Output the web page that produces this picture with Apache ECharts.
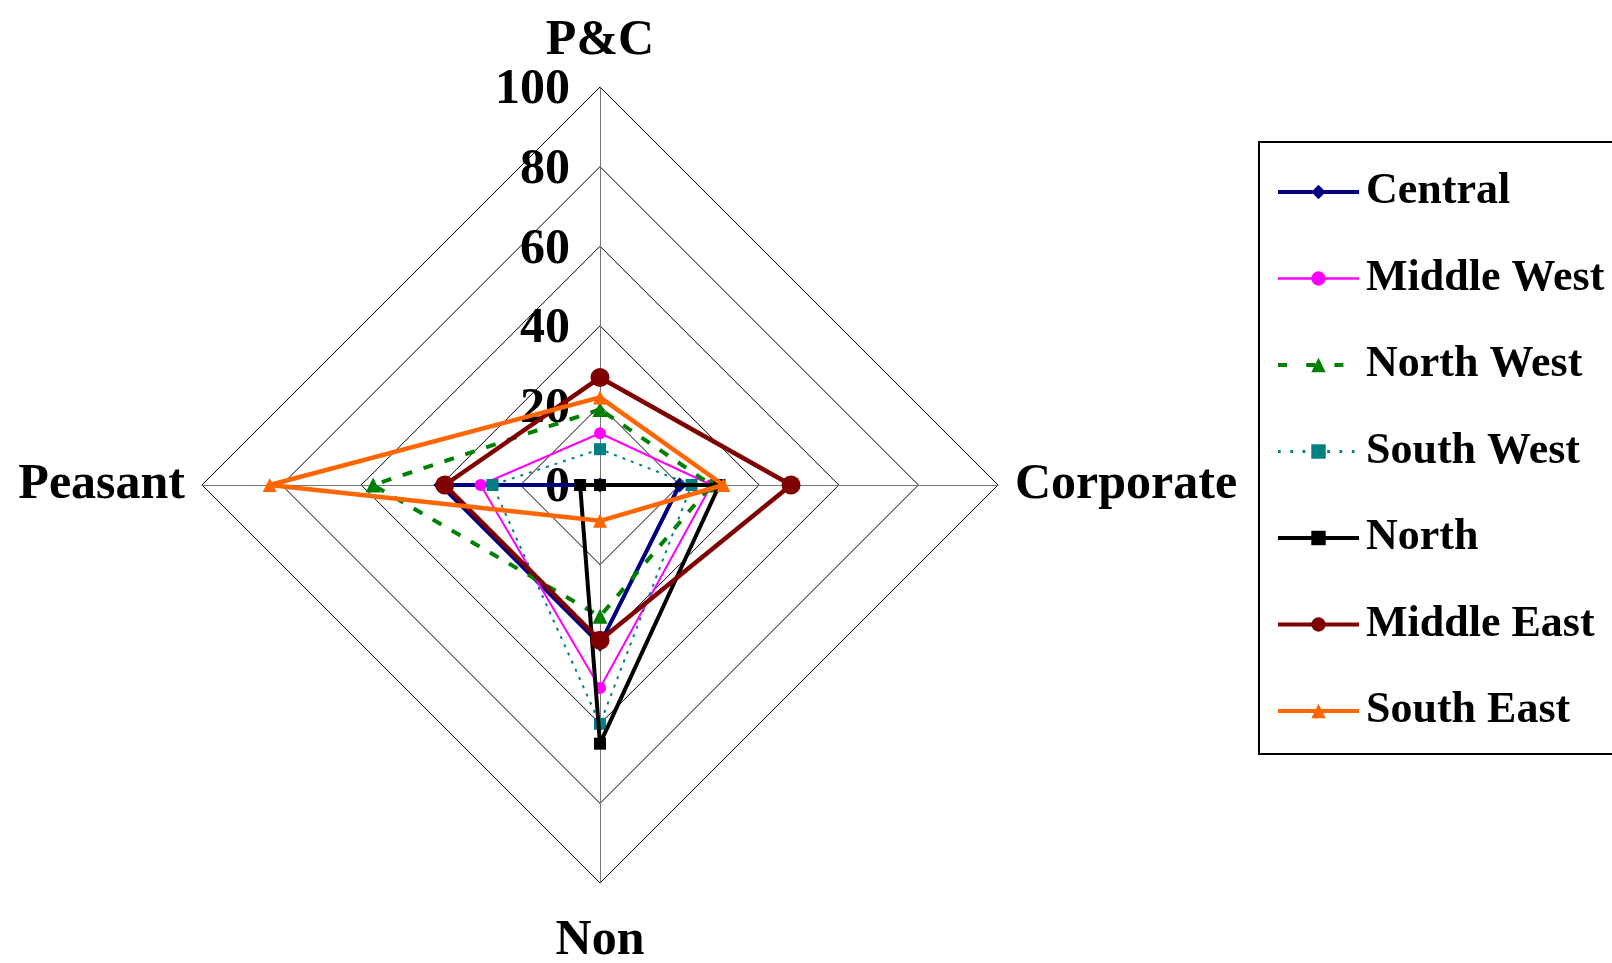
<!DOCTYPE html>
<html>
<head>
<meta charset="utf-8">
<style>
  html, body { margin: 0; padding: 0; background: #fff; }
  #chart { width: 1612px; height: 963px; }
</style>
<script src="https://cdn.jsdelivr.net/npm/echarts@6/dist/echarts.min.js"></script>
</head>
<body>
<div id="chart"></div>
<script>
// Axes, in counter-clockwise order starting at the top
const axes = ['P&C', 'Peasant', 'Non', 'Corporate'];
const axisMax = 100;
const tickStep = 20;

// Share (%) per axis, same order as `axes`
const central     = [0, 40, 40, 20];
const middleWest  = [13, 30, 51, 28];
const northWest   = [19, 57, 33, 28];
const southWest   = [9, 27, 60, 23];
const north       = [0, 5, 65, 30];
const middleEast  = [27, 39, 39, 48];
const southEast   = [22, 83, 9, 31];

const regions = ['Central', 'Middle West', 'North West', 'South West', 'North', 'Middle East', 'South East'];
const values = [central, middleWest, northWest, southWest, north, middleEast, southEast];

const styles = [
  { color: '#000080', width: 4,   legendWidth: 4, type: 'solid',  symbol: 'diamond',  size: 15 },
  { color: '#FF00FF', width: 2,   legendWidth: 2.5, type: 'solid',  symbol: 'circle',   size: 12 },
  { color: '#008000', width: 4,   legendWidth: 4, type: [10, 12], symbol: 'triangle', size: 15 },
  { color: '#008080', width: 2,   legendWidth: 3, type: [3, 6],   symbol: 'rect',     size: 12 },
  { color: '#000000', width: 4,   legendWidth: 4, type: 'solid',  symbol: 'rect',     size: 12 },
  { color: '#800000', width: 4.5, legendWidth: 4, type: 'solid',  symbol: 'circle',   size: 19 },
  { color: '#FF6600', width: 4.5, legendWidth: 4, type: 'solid',  symbol: 'triangle', size: 14 }
];

const serif = '"Liberation Serif", "Times New Roman", serif';

const chart = echarts.init(document.getElementById('chart'));

// Legend swatches: line series with no points, so the legend shows line + marker
const legendSeries = regions.map((name, i) => ({
  type: 'line',
  name: name,
  xAxisIndex: 0,
  yAxisIndex: 0,
  data: [],
  symbol: styles[i].symbol,
  itemStyle: { color: styles[i].color },
  lineStyle: {
    color: styles[i].color,
    width: styles[i].legendWidth,
    type: Array.isArray(styles[i].type) ? [styles[i].type[0] * 0.9, styles[i].type[1] * 1.6] : styles[i].type
  }
}));

const radarSeries = regions.map((name, i) => ({
  type: 'radar',
  name: name,
  symbol: styles[i].symbol,
  symbolSize: styles[i].size,
  itemStyle: { color: styles[i].color },
  lineStyle: { color: styles[i].color, width: styles[i].width, type: styles[i].type },
  data: [{ name: name, value: values[i] }],
  z: 2 + i
}));

chart.setOption({
  animation: false,
  backgroundColor: '#fff',
  grid: { show: false, left: 0, top: 0, width: 1, height: 1 },
  xAxis: { type: 'category', show: false, data: [] },
  yAxis: { type: 'value', show: false },
  legend: {
    orient: 'vertical',
    left: 1259,
    top: 142,
    data: regions,
    itemWidth: 81,
    itemHeight: 18,
    itemGap: 42.5,
    padding: [28, 60, 21, 17],
    borderColor: '#000',
    borderWidth: 2,
    selectedMode: false,
    lineStyle: { width: 'inherit', type: 'inherit' },
    textStyle: { fontFamily: serif, fontWeight: 'bold', fontSize: 44, color: '#000', padding: [0, 0, 0, 2] }
  },
  radar: {
    center: [600, 485],
    radius: 398,
    shape: 'polygon',
    splitNumber: axisMax / tickStep,
    startAngle: 90,
    axisName: {
      fontFamily: serif, fontWeight: 'bold', fontSize: 50, color: '#000',
      formatter: (name) => name === 'Non' ? '{low|' + name + '}' : name,
      rich: {
        low: { fontFamily: serif, fontWeight: 'bold', fontSize: 50, color: '#000', padding: [16, 0, 0, 0] }
      }
    },
    nameGap: 17,
    splitLine: { lineStyle: { color: '#000', width: 1 } },
    splitArea: { show: false },
    axisLine: { lineStyle: { color: '#777', width: 1 } },
    axisTick: { show: false },
    axisLabel: { show: false },
    indicator: axes.map((name, i) => {
      const ind = { name: name, min: 0, max: axisMax };
      if (i === 0) {
        ind.axisLabel = {
          show: true,
          margin: 30,
          formatter: (v) => '{t|' + v + '}',
          rich: {
            t: { fontFamily: serif, fontWeight: 'bold', fontSize: 50, color: '#000', padding: [7, 0, 0, 0] }
          }
        };
      }
      return ind;
    })
  },
  series: legendSeries.concat(radarSeries)
});
</script>
</body>
</html>
